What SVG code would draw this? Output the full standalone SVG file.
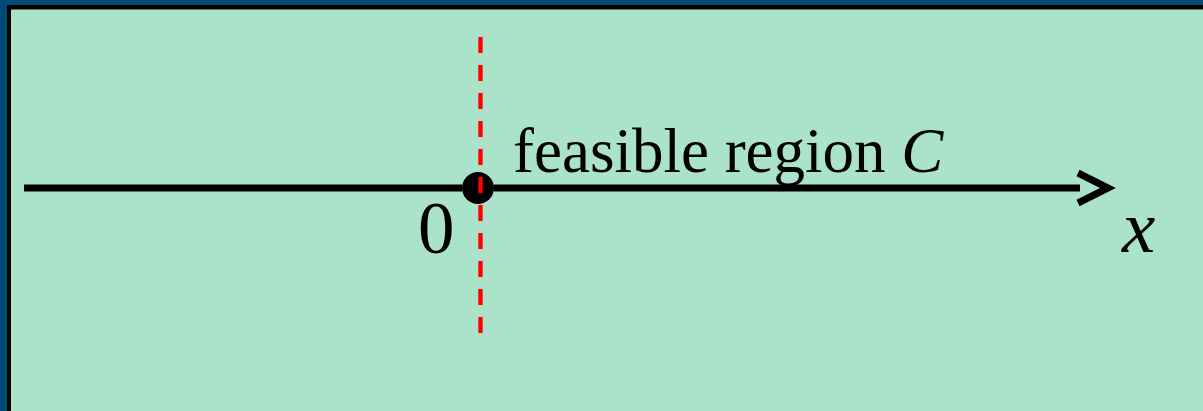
<svg xmlns="http://www.w3.org/2000/svg" width="1203" height="411" viewBox="0 0 1203 411">
  <style>
    .lbl { font-family: "Liberation Serif", "Times New Roman", serif; fill: #000; }
    .it { font-style: italic; }
    .axis { stroke: #000; stroke-width: 7; fill: none; }
  </style>
  <g id="background">
    <rect x="0" y="0" width="1203" height="411" fill="#004A74"/>
    <rect x="7" y="5" width="1196" height="406" fill="#000"/>
    <rect x="11" y="9.5" width="1192" height="401.5" fill="#AAE3CA"/>
  </g>
  <g id="origin">
    <circle cx="478" cy="188" r="16" fill="#000"/>
    <text class="lbl" x="418" y="253" font-size="73">0</text>
  </g>
  <g id="connectors">
    <line class="axis" x1="24" y1="188" x2="462" y2="188"/>
    <line class="axis" x1="494" y1="188" x2="1080" y2="188"/>
    <polyline class="axis" points="1078,173 1108,188 1078,203" stroke-linejoin="miter"/>
    <line x1="480.5" y1="37" x2="480.5" y2="334" stroke="#FF0000" stroke-width="4.4" stroke-dasharray="16 12"/>
  </g>
  <g id="region-label">
    <text class="lbl" x="513" y="172" font-size="63">feasible region <tspan class="it">C</tspan></text>
  </g>
  <g id="x-label">
    <text class="lbl it" x="1122" y="252" font-size="75">x</text>
  </g>
</svg>
